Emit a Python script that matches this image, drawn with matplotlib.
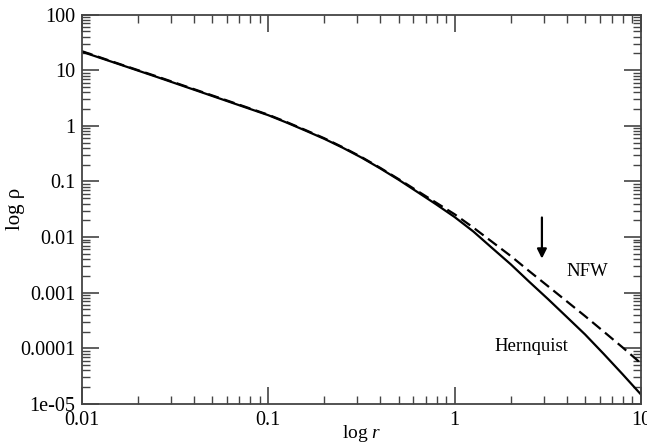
import numpy as np
import matplotlib
matplotlib.use('Agg')
import matplotlib.pyplot as plt
from matplotlib.ticker import FixedLocator, FixedFormatter, LogLocator, NullFormatter

plt.rcParams['font.family'] = ['Liberation Serif', 'DejaVu Serif']
plt.rcParams['mathtext.fontset'] = 'custom'
plt.rcParams['mathtext.rm'] = 'Liberation Serif'
plt.rcParams['mathtext.it'] = 'Liberation Serif:italic'

# values
r = [0.01, 0.0158, 0.0251, 0.0398, 0.0631, 0.1, 0.126, 0.158, 0.2, 0.251,
     0.316, 0.398, 0.501, 0.631, 0.794, 1.0, 1.26, 1.58, 2.0, 2.51,
     3.16, 3.98, 5.01, 6.31, 7.94, 10.0]
rho_hernquist = [21.4, 12.8, 7.59, 4.47, 2.63, 1.55, 1.135, 0.822, 0.582, 0.403,
                 0.269, 0.172, 0.107, 0.0646, 0.0389, 0.0229, 0.0126, 0.00646, 0.00324, 0.00158,
                 7.76e-4, 3.72e-4, 1.78e-4, 7.94e-5, 3.47e-5, 1.48e-5]
rho_nfw = [21.9, 13.0, 7.76, 4.57, 2.69, 1.58, 1.16, 0.841, 0.596, 0.412,
           0.275, 0.176, 0.110, 0.0676, 0.0417, 0.0257, 0.0148, 0.00832, 0.00457, 0.00245,
           0.00132, 7.08e-4, 3.80e-4, 2.00e-4, 1.05e-4, 5.37e-5]

xticks = [0.01, 0.1, 1, 10]
xticklabels = ['0.01', '0.1', '1', '10']
yticks = [1e-5, 1e-4, 1e-3, 1e-2, 1e-1, 1, 10, 100]
yticklabels = ['1e-05', '0.0001', '0.001', '0.01', '0.1', '1', '10', '100']

fig = plt.figure(figsize=(6.47, 4.44), dpi=100)
ax = fig.add_axes([0.1267, 0.0901, 0.864, 0.8772])

ax.plot(r, rho_hernquist, color='black', lw=1.6)
ax.plot(r, rho_nfw, color='black', lw=1.6, ls=(0, (5, 2.5)))

ax.set_xscale('log')
ax.set_yscale('log')
ax.set_xlim(0.01, 10)
ax.set_ylim(1e-5, 100)

ax.xaxis.set_major_locator(FixedLocator(xticks))
ax.xaxis.set_major_formatter(FixedFormatter(xticklabels))
ax.yaxis.set_major_locator(FixedLocator(yticks))
ax.yaxis.set_major_formatter(FixedFormatter(yticklabels))
ax.xaxis.set_minor_locator(LogLocator(base=10, subs=np.arange(2, 10), numticks=20))
ax.yaxis.set_minor_locator(LogLocator(base=10, subs=np.arange(2, 10), numticks=20))
ax.xaxis.set_minor_formatter(NullFormatter())
ax.yaxis.set_minor_formatter(NullFormatter())

ax.tick_params(which='both', direction='in', top=True, right=True, color='#444444')
ax.tick_params(which='major', length=12, width=1.2, labelsize=14.5, pad=5)
ax.tick_params(which='minor', length=6, width=1.0)
for s in ax.spines.values():
    s.set_linewidth(1.3)
    s.set_color('#444444')

ax.set_xlabel('log $r$', fontsize=14, labelpad=-5)
ax.set_ylabel('log ρ', fontsize=15, labelpad=-4)

ax.annotate('', xy=(2.94, 0.0041), xytext=(2.94, 0.0225),
            arrowprops=dict(arrowstyle='-|>', color='black', lw=1.6,
                            mutation_scale=14, shrinkA=0, shrinkB=0))
ax.text(3.98, 0.00244, 'NFW', fontsize=13.5, va='center', ha='left')
ax.text(1.63, 1.06e-4, 'Hernquist', fontsize=13.5, va='center', ha='left')

fig.savefig('out.png', dpi=100)
